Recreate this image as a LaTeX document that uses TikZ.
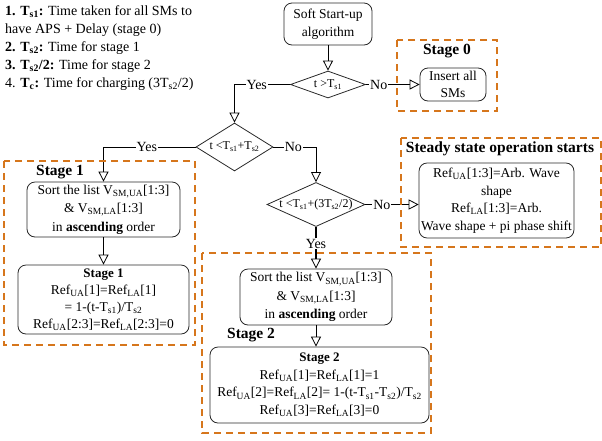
\documentclass[tikz,border=0pt]{standalone}
\usepackage{fontspec}
\setmainfont{Liberation Serif}
\usetikzlibrary{shapes.geometric,arrows.meta}
\definecolor{stageorange}{RGB}{214,118,28}
\definecolor{boxgray}{RGB}{40,40,40}
\newcommand{\sbs}[1]{\textsubscript{#1}}
\begin{document}
\begin{tikzpicture}[x=1pt,y=-1pt,
  every node/.style={font=\fontsize{13.5}{17.5}\selectfont},
  procbox/.style={draw=boxgray, line width=0.8pt, rounded corners=8pt, align=center, inner sep=2pt},
  decision/.style={draw=boxgray, line width=0.8pt, diamond, inner sep=0pt, font=\fontsize{12}{13}\selectfont},
  stageframe/.style={draw=stageorange, line width=1.8pt, dash pattern=on 7pt off 5pt},
  conn/.style={draw=black, line width=0.8pt, -{Triangle[open, length=10pt, width=10pt, line width=0.8pt]}},
  thickconn/.style={conn, line width=1.6pt},
  lbl/.style={fill=white, inner sep=1pt, font=\fontsize{14}{16}\selectfont},
  frametitle/.style={font=\bfseries\fontsize{15.5}{18}\selectfont, inner sep=0pt}
]
\useasboundingbox (0,0) rectangle (602,440);

% legend
\node[anchor=north west, align=left, inner sep=0pt, font=\fontsize{14}{18}\selectfont] (legend) at (5,5)
  {\textbf{1. T\sbs{s1}:} Time taken for all SMs to\\
   have APS + Delay (stage 0)\\
   \textbf{2. T\sbs{s2}:} Time for stage 1\\
   \textbf{3. T\sbs{s2}/2:} Time for stage 2\\
   4. \textbf{T\sbs{c}:} Time for charging (3T\sbs{s2}/2)};

% process boxes
\node[procbox, minimum width=88pt, minimum height=42pt] (start) at (328,24) {Soft Start-up\\algorithm};
\node[procbox, minimum width=66pt, minimum height=33pt] (insert) at (453,84.5) {Insert all\\SMs};
\node[procbox, minimum width=153pt, minimum height=75pt] (ss) at (496.5,200.5)
  {Ref\sbs{UA}[1:3]=Arb. Wave\\shape\\Ref\sbs{LA}[1:3]=Arb.\\Wave shape + pi phase shift};
\node[procbox, minimum width=153pt, minimum height=55pt, font=\fontsize{13.5}{18.3}\selectfont] (sort1) at (103.5,209.5)
  {Sort the list V\sbs{SM,UA}[1:3]\\\& V\sbs{SM,LA}[1:3]\\in \textbf{ascending} order};
\node[procbox, minimum width=171pt, minimum height=69pt, font=\fontsize{13.5}{17}\selectfont] (calc1) at (103.5,299.5)
  {{\bfseries\fontsize{13}{14}\selectfont Stage 1}\\Ref\sbs{UA}[1]=Ref\sbs{LA}[1]\\= 1-(t-T\sbs{s1})/T\sbs{s2}\\Ref\sbs{UA}[2:3]=Ref\sbs{LA}[2:3]=0};
\node[procbox, minimum width=152pt, minimum height=56pt, font=\fontsize{13.5}{18.3}\selectfont] (sort2) at (316,297)
  {Sort the list V\sbs{SM,UA}[1:3]\\\& V\sbs{SM,LA}[1:3]\\in \textbf{ascending} order};
\node[procbox, minimum width=219pt, minimum height=76pt, font=\fontsize{13.5}{17.5}\selectfont] (calc2) at (319.5,385)
  {{\bfseries\fontsize{13}{14}\selectfont Stage 2}\\Ref\sbs{UA}[1]=Ref\sbs{LA}[1]=1\\Ref\sbs{UA}[2]=Ref\sbs{LA}[2]= 1-(t-T\sbs{s1}-T\sbs{s2})/T\sbs{s2}\\Ref\sbs{UA}[3]=Ref\sbs{LA}[3]=0};

% decisions
\node[decision, aspect=2.8, minimum width=75pt, minimum height=27pt] (d1) at (328,84.5) {t >T\sbs{s1}};
\node[decision, aspect=1.6, minimum width=77pt, minimum height=48pt] (d2) at (234.5,147) {t <T\sbs{s1}+T\sbs{s2}};
\node[decision, aspect=2.2, minimum width=98pt, minimum height=44pt] (d3) at (316,204.5) {t <T\sbs{s1}+(3T\sbs{s2}/2)};

% connectors
\draw[conn] (start.south) -- (d1.north);
\draw[thickconn] (d1.east) -- node[lbl,pos=0.24]{No} (insert.west);
\coordinate (c1) at (d1.west -| d2.north);
\draw[conn] (d1.west) -- node[lbl,pos=0.6]{Yes} (c1) -- (d2.north);
\coordinate (c2) at (d2.west -| sort1.north);
\draw[conn] (d2.west) -- node[lbl,pos=0.53]{Yes} (c2) -- (sort1.north);
\coordinate (c3) at (d2.east -| d3.north);
\draw[conn] (d2.east) -- node[lbl,pos=0.47]{No} (c3) -- (d3.north);
\coordinate (c4) at (d3.east -| ss.west);
\draw[thickconn] (d3.east) -- node[lbl,pos=0.31]{No} (c4);
\draw[thickconn] (d3.south) -- node[lbl,pos=0.4]{Yes} (sort2.north);
\draw[conn] (sort1.south) -- (calc1.north);
\coordinate (c5) at (sort2.south |- calc2.north);
\draw[conn] (sort2.south) -- (c5);

% stage frames
\draw[stageframe] (397,40) rectangle (497,111);
\node[frametitle] (t0) at (447,51) {Stage 0};
\draw[stageframe] (401,138) rectangle (601,247);
\node[frametitle] (tss) at (500,149) {Steady state operation starts};
\draw[stageframe] (4,161) rectangle (195,345);
\node[frametitle, anchor=west] (t1) at (36,172) {Stage 1};
\draw[stageframe] (202,253) rectangle (431,433);
\node[frametitle, anchor=west] (t2) at (227,335) {Stage 2};
\end{tikzpicture}
\end{document}
